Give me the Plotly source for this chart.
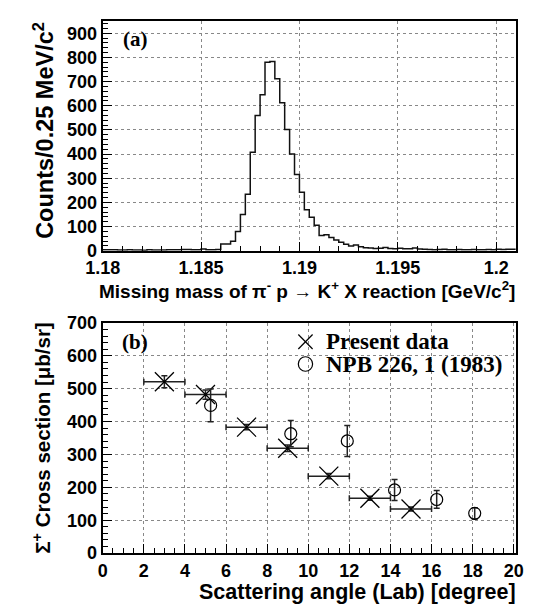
import numpy as np
import plotly.graph_objects as go

# ---------------- Panel (a): missing-mass histogram ----------------
mass_start = 1.18        # GeV/c^2, lower edge of first bin
bin_width = 0.00025      # GeV/c^2 (0.25 MeV/c^2)
counts = [5, 4, 4, 3, 3, 4, 3, 3, 2, 4, 3, 3, 3, 4, 5, 4, 6, 6, 5, 4,
          8, 5, 4, 6, 28, 28, 40, 80, 150, 234, 408, 560, 646, 780, 783, 712, 612, 502, 400, 316,
          242, 170, 139, 106, 63, 67, 55, 45, 35, 27, 20, 24, 17, 13, 12, 10, 11, 14, 10, 9,
          11, 9, 9, 12, 8, 7, 6, 5, 6, 7, 5, 5, 6, 4, 5, 6, 4, 5, 6, 5, 7, 6, 7, 7]
a_xtick_labels = ["1.18", "1.185", "1.19", "1.195", "1.2"]

# ---------------- Panel (b): cross sections ----------------
present_angle = [3, 5, 7, 9, 11, 13, 15]
present_angle_err = [1, 1, 1, 1, 1, 1, 1]
present_xsec = [521, 482, 383, 319, 234, 167, 134]
present_xsec_err = [18, 14, 8, 10, 8, 6, 6]

npb_angle = [5.25, 9.15, 11.9, 14.2, 16.25, 18.1]
npb_xsec = [449, 363, 341, 192, 163, 121]
npb_xsec_err = [50, 40, 47, 32, 27, 17]

legend_labels = ["Present data", "NPB 226, 1 (1983)"]

W, H = 540, 610
def px(x):
    return x / W
def py(y):
    return 1 - y / H

edges = mass_start + bin_width * np.arange(len(counts) + 1)
hist_y = counts + [counts[-1]]

fig = go.Figure()
fig.add_trace(go.Scatter(x=edges, y=hist_y, mode="lines", line=dict(color="#111", width=1.5, shape="hv"),
                         showlegend=False, xaxis="x", yaxis="y"))

fig.add_trace(go.Scatter(x=present_angle, y=present_xsec, mode="markers", name=legend_labels[0],
                         showlegend=False,
                         marker=dict(symbol="x-thin-open", size=19, color="black", line=dict(width=1.3, color="black")),
                         error_x=dict(type="data", array=present_angle_err, color="#222", thickness=1.5, width=3),
                         error_y=dict(type="data", array=present_xsec_err, color="#222", thickness=1.5, width=3),
                         xaxis="x2", yaxis="y2"))
fig.add_trace(go.Scatter(x=npb_angle, y=npb_xsec, mode="markers", name=legend_labels[1],
                         showlegend=False,
                         marker=dict(symbol="circle-open", size=12, color="black", line=dict(width=1.2, color="black")),
                         error_y=dict(type="data", array=npb_xsec_err, color="#222", thickness=1.5, width=3),
                         xaxis="x2", yaxis="y2"))

tickfont = dict(family="Liberation Sans, Arial", size=18, color="black", weight="bold")
def axis(**kw):
    d = dict(showline=True, linecolor="black", linewidth=2, mirror=True,
             ticks="inside", ticklen=9, tickwidth=1.3, tickcolor="black",
             showgrid=True, gridcolor="#888", griddash="dot", gridwidth=1, zeroline=False,
             tickfont=tickfont)
    d.update(kw)
    return d

xdom = [px(89), px(523)]
fig.update_layout(
    width=W, height=H, autosize=False,
    margin=dict(l=0, r=0, t=0, b=0),
    paper_bgcolor="white", plot_bgcolor="white",
    showlegend=False,
    xaxis=axis(domain=xdom, range=[1.18, 1.201], anchor="y",
               tickvals=[float(s) for s in a_xtick_labels], ticktext=a_xtick_labels,
               minor=dict(ticks="inside", dtick=0.001, tick0=1.18, ticklen=5, tickcolor="black", showgrid=False)),
    yaxis=axis(domain=[py(249), py(11)], range=[0, 952], anchor="x", dtick=100,
               minor=dict(ticks="inside", dtick=20, ticklen=5, tickcolor="black", showgrid=False)),
    xaxis2=axis(domain=xdom, range=[0, 20.1], anchor="y2", dtick=2,
                minor=dict(ticks="inside", dtick=0.5, ticklen=5, tickcolor="black", showgrid=False)),
    yaxis2=axis(domain=[py(561.5), py(323.5)], range=[0, 700], anchor="x2", dtick=100,
                minor=dict(ticks="inside", dtick=20, ticklen=5, tickcolor="black", showgrid=False)),
)

sans = "Liberation Sans, Arial"
serif_family = "Liberation Serif, Times New Roman"
fig.add_annotation(text="Missing mass of π<sup>-</sup> p → K<sup>+</sup> X reaction [GeV/c<sup>2</sup>]",
                   xref="paper", yref="paper", x=px(524), y=py(289), xanchor="right", yanchor="middle",
                   showarrow=False, font=dict(family=sans, size=19, color="black", weight="bold"))
fig.add_annotation(text="Counts/0.25 MeV/c<sup>2</sup>", textangle=-90,
                   xref="paper", yref="paper", x=px(27), y=py(10), xanchor="center", yanchor="top",
                   showarrow=False, font=dict(family=sans, size=23.5, color="black", weight="bold"))
fig.add_annotation(text="Scattering angle (Lab) [degree]",
                   xref="paper", yref="paper", x=px(525), y=py(602), xanchor="right", yanchor="middle",
                   showarrow=False, font=dict(family=sans, size=21.5, color="black", weight="bold"))
fig.add_annotation(text="Σ<sup>+</sup> Cross section [μb/sr]", textangle=-90,
                   xref="paper", yref="paper", x=px(25), y=py(321), xanchor="center", yanchor="top",
                   showarrow=False, font=dict(family=sans, size=20.5, color="black", weight="bold"))
serif = dict(family=serif_family, size=21, color="black", weight="bold")
fig.add_annotation(text="(a)", xref="paper", yref="paper", x=px(108), y=py(30), xanchor="left", yanchor="middle",
                   showarrow=False, font=serif)
fig.add_annotation(text="(b)", xref="paper", yref="paper", x=px(107), y=py(343), xanchor="left", yanchor="middle",
                   showarrow=False, font=serif)

# legend (keys drawn as shapes in paper space, labels as text)
leg_font = dict(family=serif_family, size=23, color="black", weight="bold")
key_x, row1_y, row2_y, half = 302, 343, 366, 7.5
fig.add_shape(type="line", xref="paper", yref="paper", x0=px(key_x - half), x1=px(key_x + half),
              y0=py(row1_y - half), y1=py(row1_y + half), line=dict(color="black", width=1.2))
fig.add_shape(type="line", xref="paper", yref="paper", x0=px(key_x - half), x1=px(key_x + half),
              y0=py(row1_y + half), y1=py(row1_y - half), line=dict(color="black", width=1.2))
fig.add_shape(type="circle", xref="paper", yref="paper", x0=px(key_x - half), x1=px(key_x + half),
              y0=py(row2_y - half), y1=py(row2_y + half), line=dict(color="black", width=1.2))
fig.add_annotation(text=legend_labels[0], xref="paper", yref="paper", x=px(321), y=py(row1_y),
                   xanchor="left", yanchor="middle", showarrow=False, font=leg_font)
fig.add_annotation(text=legend_labels[1], xref="paper", yref="paper", x=px(321), y=py(row2_y),
                   xanchor="left", yanchor="middle", showarrow=False, font=leg_font)

fig.write_html("out.html", config={"displayModeBar": False},
               post_script="document.body.style.margin='0px';document.body.style.overflow='hidden';")
